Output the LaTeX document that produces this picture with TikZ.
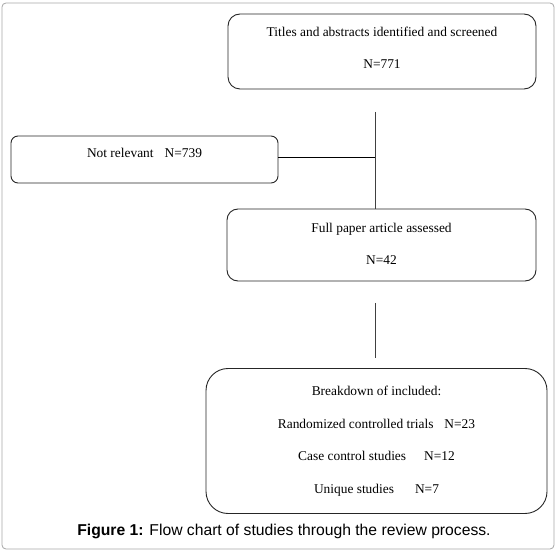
\documentclass[tikz,border=0pt]{standalone}
\usepackage{fontspec}
\setmainfont{Liberation Serif}
\newfontfamily\capfont{Liberation Sans}
\begin{document}
\begin{tikzpicture}[x=1pt,y=-1pt,
  flowbox/.style={draw=black!85, line width=0.9pt, align=center,
    font=\fontsize{13.4}{32}\selectfont},
  link/.style={draw=black!75, line width=0.9pt}]
\useasboundingbox (0,0) rectangle (560,553);
% outer frame
\draw[black!35, line width=0.8pt, rounded corners=4pt] (2,3) rectangle (554,549);
% boxes
\node[flowbox, rounded corners=12pt, minimum width=308pt, minimum height=75pt,
  text height=41pt, text depth=7pt]
  (screened) at (382,51.5) {Titles and abstracts identified and screened\\N=771};
\node[flowbox, rounded corners=7pt, minimum width=267pt, minimum height=47pt,
  text height=9pt, text depth=13pt]
  (notrel) at (144.5,159.5) {Not relevant\hspace{11pt}N=739};
\node[flowbox, rounded corners=11pt, minimum width=309pt, minimum height=72pt,
  text height=41pt, text depth=2pt]
  (assessed) at (381.5,245) {Full paper article assessed\\N=42};
\node[flowbox, rounded corners=22pt, minimum width=341pt, minimum height=145pt,
  font=\fontsize{13.4}{32.5}\selectfont]
  (included) at (376.5,441) {Breakdown of included:\\
  Randomized controlled trials\hspace{11pt}N=23\\
  Case control studies\hspace{18pt}N=12\\
  Unique studies\hspace{21pt}N=7};
% connectors
\coordinate (top1) at (375,112);
\coordinate (split) at (375,157);
\coordinate (top2) at (375,303);
\coordinate (bot2) at (375,358);
\draw[link] (top1) -- (top1 |- assessed.north);
\draw[link, black] (split -| notrel.east) -- (split);
\draw[link] (top2) -- (bot2);
% caption
\node[font=\capfont\fontsize{15.7}{17}\selectfont] (caption) at (284,531)
  {\textbf{Figure 1:} Flow chart of studies through the review process.};
\end{tikzpicture}
\end{document}
